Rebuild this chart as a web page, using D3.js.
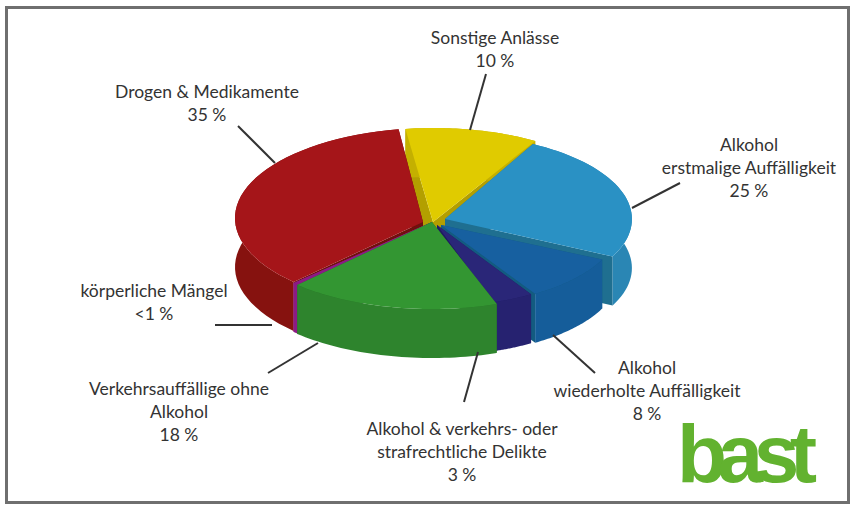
<!DOCTYPE html>
<html><head><meta charset="utf-8">
<style>html,body{margin:0;padding:0;background:#fff}svg{display:block}text{font-family:Lato,"Open Sans",sans-serif;fill:#333}</style>
<script src="https://cdnjs.cloudflare.com/ajax/libs/d3/7.8.5/d3.min.js"></script>
</head><body><svg id="c" width="851" height="505"></svg>
<script>
const names = ["Sonstige Anlässe","Alkohol erstmalige Auffälligkeit","Alkohol wiederholte Auffälligkeit","Alkohol & verkehrs- oder strafrechtliche Delikte","Verkehrsauffällige ohne Alkohol","körperliche Mängel","Drogen & Medikamente"];
const shares = [10,25,8,3,18,0.8,35];
const labelLines = [["Sonstige Anlässe","10 %"],["Alkohol","erstmalige Auffälligkeit","25 %"],["Alkohol","wiederholte Auffälligkeit","8 %"],["Alkohol & verkehrs- oder","strafrechtliche Delikte","3 %"],["Verkehrsauffällige ohne","Alkohol","18 %"],["körperliche Mängel","<1 %"],["Drogen & Medikamente","35 %"]];
const topColors  = ["#e0cb00","#2a91c4","#1760a0","#2a2678","#339632","#8c1a85","#a51519"];
const wallColors = ["#c4b000","#2a86b4","#155d9a","#262270","#2e842d","#8c1a85","#86120f"];
const cutColors  = ["#b39f00","#1f6f90","#135b80","#1f1c60","#276f26","#8c1a85","#70100d"];
// per-slice layout: ellipse centre offset x, y, radius scale, apex offset x, y
const explode = [[1,-4,1,1,0],[13,-3,.944,13,-3],[9,3,.9,9,3],[7,5,.88,5,3],[0,-3,1,0,0],[1,-3,1,0,0],[1,-4,1,-9,0]];
// small drawn-angle corrections (degrees) for the perspective of the original
const skew = [[2,5],[2,0],[-1,3],[3,6],[5,2],[2,1],[1,0]];
const labelPos = [[495,44],[749,151],[647,374],[462,435],[179,395],[154,297],[207,98]];
const leaders = [[[486,74],[470,130]],[[632,208],[680,183]],[[553,335],[595,373]],[[478,352],[464,402]],[[318,343],[268,373]],[[215,325],[272,325]],[[238,126],[275,163]]];

const cx=432, cy=222, rx=198, ry=90, thick=49, rad=Math.PI/180;
const svg=d3.select("#c");
svg.append("rect").attr("x",6.5).attr("y",7.5).attr("width",842).attr("height",495).attr("fill","#fff").attr("stroke","#6f6f6f").attr("stroke-width",3);

const pie=d3.pie().sort(null).startAngle(-10*rad).endAngle(350*rad);
const arcs=pie(shares);
const pt=(a,i,dz=0)=>{const e=explode[i];return [cx+e[0]+rx*e[2]*Math.sin(a), cy+e[1]-ry*e[2]*Math.cos(a)+dz];};
const apex=(i,dz=0)=>[cx+explode[i][3],cy+explode[i][4]+dz];
const line=d3.line();
const order=[0,6,1,2,3,5,4];
order.forEach(i=>{
  const d=arcs[i], g=svg.append("g");
  const a0=d.startAngle+skew[i][0]*rad,a1=d.endAngle+skew[i][1]*rad;
  const as=d3.range(0,41).map(k=>a0+(a1-a0)*k/40);
  [a0,a1].forEach(a=>{
    g.append("path").attr("fill",cutColors[i]).attr("d",line([apex(i),pt(a,i),pt(a,i,thick),apex(i,thick)])+"Z");
  });
  const wall=as.map(a=>pt(a,i)).concat(as.slice().reverse().map(a=>pt(a,i,thick)));
  g.append("path").attr("fill",wallColors[i]).attr("d",line(wall)+"Z");
  g.append("path").attr("fill",topColors[i]).attr("d",line([apex(i)].concat(as.map(a=>pt(a,i))))+"Z");
});
leaders.forEach(l=>svg.append("path").attr("d",line(l)).attr("stroke","#333").attr("stroke-width",2).attr("fill","none"));
labelLines.forEach((ls,i)=>{
  const t=svg.append("text").attr("text-anchor","middle").attr("font-size",17.5);
  ls.forEach((s,k)=>t.append("tspan").attr("x",labelPos[i][0]).attr("y",labelPos[i][1]+k*23).text(s));
});
svg.append("text").attr("x",677).attr("y",482).text("bast").style("font-family","'Liberation Sans'").style("font-weight",700).style("fill","#62b22f").attr("font-size",82).attr("letter-spacing",-9.5);
</script></body></html>
